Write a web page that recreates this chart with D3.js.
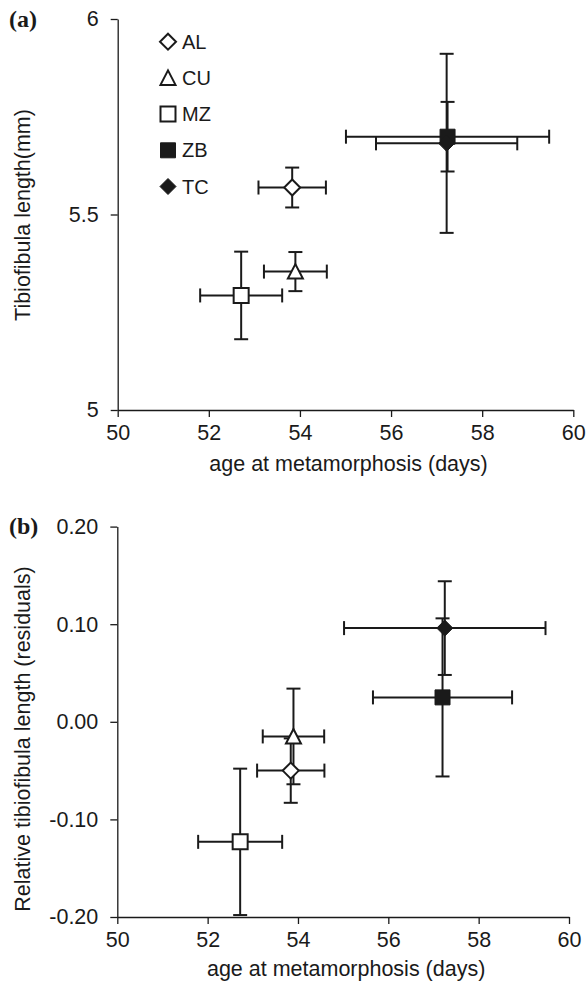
<!DOCTYPE html>
<html>
<head>
<meta charset="utf-8">
<script src="https://cdn.jsdelivr.net/npm/d3@7"></script>
<style>
  body { margin: 0; background: #fff; }
  text { font-family: "Liberation Sans", Arial, sans-serif; fill: #1a1a1a; }
</style>
</head>
<body>
<div class="canvas"></div>
<script>
// groups and their marker styles
const groups = ['AL', 'CU', 'MZ', 'ZB', 'TC'];
const shapes = ['diamond', 'triangle', 'square', 'square', 'diamond'];
const filled = [false, false, false, true, true];

// panel (a): tibiofibula length vs age at metamorphosis
const ageA = [53.83, 53.90, 52.71, 57.24, 57.22];
const ageErrA = [0.74, 0.69, 0.90, 2.23, 1.55];
const lengthA = [5.569, 5.354, 5.293, 5.699, 5.682];
const lengthErrA = [0.051, 0.050, 0.112, 0.089, 0.229];

// panel (b): relative tibiofibula length (residuals)
const ageB = [53.84, 53.90, 52.72, 57.20, 57.25];
const ageErrB = [0.745, 0.68, 0.93, 1.54, 2.23];
const residB = [-0.050, -0.015, -0.123, 0.025, 0.096];
const residErrB = [0.033, 0.049, 0.075, 0.081, 0.048];

const xTicks = [50, 52, 54, 56, 58, 60];
const yTicksA = [5, 5.5, 6];
const yTicksB = [-0.2, -0.1, 0, 0.1, 0.2];

const width = 586, height = 983;
const capHalf = 7;
const ink = '#1a1a1a';

const svg = d3.select('.canvas')
  .append('svg')
  .attr('width', width)
  .attr('height', height);

function markerPath(shape) {
  if (shape === 'diamond') return 'M0,-8L8,0L0,8L-8,0Z';
  if (shape === 'triangle') return 'M0,-7.5L7.5,7L-7.5,7Z';
  return 'M-7.5,-7.5H7.5V7.5H-7.5Z';
}

function drawPanel(p) {
  const x = d3.scaleLinear().domain([50, 60]).range(p.xRange);
  const y = d3.scaleLinear().domain(p.yDomain).range(p.yRange);

  const yAxis = d3.axisLeft(y)
    .tickValues(p.yTicks)
    .tickFormat(p.yFormat)
    .tickSize(7)
    .tickSizeOuter(0)
    .tickPadding(12);

  const xAxis = d3.axisBottom(x)
    .tickValues(xTicks)
    .tickFormat(d => d)
    .tickSize(7)
    .tickSizeOuter(0)
    .tickPadding(8);

  const yG = svg.append('g')
    .attr('transform', `translate(${p.xRange[0]},0)`)
    .style('color', ink)
    .call(yAxis);

  const xG = svg.append('g')
    .attr('transform', `translate(0,${p.yRange[0]})`)
    .style('color', ink)
    .call(xAxis);

  [yG, xG].forEach(g => {
    g.selectAll('path, line').attr('stroke-width', 1.3);
    g.selectAll('text')
      .style('font-family', '"Liberation Sans", Arial, sans-serif')
      .style('font-size', '21.5px')
      .attr('fill', ink);
  });

  // error bars first, markers on top
  const bars = svg.append('g')
    .attr('stroke', ink)
    .attr('stroke-width', 2)
    .attr('fill', 'none');

  groups.forEach((g, i) => {
    const cx = x(p.xs[i]), cy = y(p.ys[i]);
    const x0 = x(p.xs[i] - p.xErr[i]), x1 = x(p.xs[i] + p.xErr[i]);
    const y0 = y(p.ys[i] - p.yErr[i]), y1 = y(p.ys[i] + p.yErr[i]);

    bars.append('line').attr('x1', cx).attr('x2', cx).attr('y1', y0).attr('y2', y1);
    bars.append('line').attr('x1', cx - capHalf).attr('x2', cx + capHalf).attr('y1', y0).attr('y2', y0);
    bars.append('line').attr('x1', cx - capHalf).attr('x2', cx + capHalf).attr('y1', y1).attr('y2', y1);

    bars.append('line').attr('x1', x0).attr('x2', x1).attr('y1', cy).attr('y2', cy);
    bars.append('line').attr('x1', x0).attr('x2', x0).attr('y1', cy - capHalf).attr('y2', cy + capHalf);
    bars.append('line').attr('x1', x1).attr('x2', x1).attr('y1', cy - capHalf).attr('y2', cy + capHalf);
  });

  svg.append('g')
    .selectAll('path')
    .data(groups)
    .enter()
    .append('path')
      .attr('d', (d, i) => markerPath(shapes[i]))
      .attr('transform', (d, i) => `translate(${x(p.xs[i])},${y(p.ys[i])})`)
      .attr('fill', (d, i) => filled[i] ? ink : '#fff')
      .attr('stroke', ink)
      .attr('stroke-width', (d, i) => filled[i] ? 1 : 2)
      .attr('stroke-linejoin', 'miter');

  // axis titles
  svg.append('text')
    .attr('x', (p.xRange[0] + p.xRange[1]) / 2 + 3)
    .attr('y', p.xTitleY)
    .attr('text-anchor', 'middle')
    .style('font-size', '21.5px')
    .text('age at metamorphosis (days)');

  svg.append('text')
    .attr('transform', `translate(30,${p.yTitleY}) rotate(-90)`)
    .attr('text-anchor', 'middle')
    .style('font-size', '21.5px')
    .text(p.yTitle);

  // panel letter
  svg.append('text')
    .attr('x', 9)
    .attr('y', p.letterY)
    .style('font-family', '"Liberation Serif", "Times New Roman", serif')
    .style('font-weight', 'bold')
    .style('font-size', '24px')
    .text(p.letter);

  return { x, y };
}

drawPanel({
  xRange: [117.7, 573.3],
  yDomain: [5, 6],
  yRange: [410, 19],
  yTicks: yTicksA,
  yFormat: d => d,
  xs: ageA, xErr: ageErrA, ys: lengthA, yErr: lengthErrA,
  xTitleY: 471,
  yTitle: 'Tibiofibula length(mm)',
  yTitleY: 215,
  letter: '(a)',
  letterY: 27
});

drawPanel({
  xRange: [117.3, 569],
  yDomain: [-0.2, 0.2],
  yRange: [917, 526.6],
  yTicks: yTicksB,
  yFormat: d => d.toFixed(2),
  xs: ageB, xErr: ageErrB, ys: residB, yErr: residErrB,
  xTitleY: 976,
  yTitle: 'Relative tibiofibula length (residuals)',
  yTitleY: 739,
  letter: '(b)',
  letterY: 534
});

// legend in panel (a)
const legend = svg.selectAll('.legend')
  .data(groups)
  .enter()
  .append('g')
  .attr('class', 'legend')
  .attr('transform', (d, i) => `translate(168, ${41.7 + i * 36.2})`);

legend.append('path')
  .attr('d', (d, i) => markerPath(shapes[i]))
  .attr('fill', (d, i) => filled[i] ? ink : '#fff')
  .attr('stroke', ink)
  .attr('stroke-width', (d, i) => filled[i] ? 1 : 2);

legend.append('text')
  .attr('x', 14)
  .attr('dy', '0.35em')
  .style('font-size', '20px')
  .text(d => d);
</script>
</body>
</html>
